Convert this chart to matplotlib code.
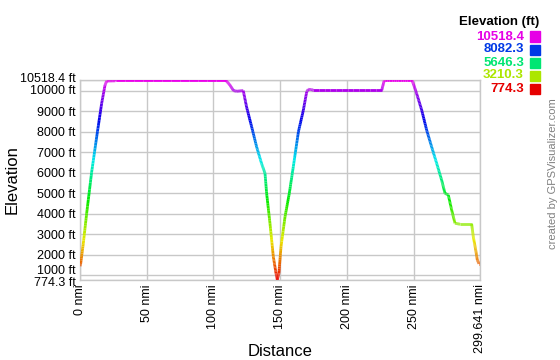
import numpy as np
import matplotlib
matplotlib.use("Agg")
import matplotlib.pyplot as plt
import matplotlib.transforms as mtransforms
from matplotlib.collections import LineCollection
from matplotlib.colors import hsv_to_rgb

plt.rcParams['font.family'] = ['Liberation Sans', 'DejaVu Sans']

# Distance (nmi) and elevation (ft) read from the profile
dist = [0.0, 0.5, 2.5, 5.0, 8.7, 12.5, 16.2, 18.7, 20.0, 26.5, 27.0, 109.0, 112.0, 115.0,
        117.4, 122.3, 124.8, 128.6, 132.3, 136.0, 138.6, 139.8, 142.3, 144.8, 146.8,
        147.8, 149.0, 150.6, 153.6, 156.8, 159.8, 163.6, 167.3, 169.8, 171.0, 173.5,
        174.8, 226.0, 227.8, 228.5, 248.5, 249.7, 252.2, 256.0, 259.7, 263.4, 267.2,
        270.9, 273.4, 275.9, 278.4, 280.9, 284.7, 293.4, 294.6, 296.4, 297.6, 298.9,
        299.641]
elev = [1450, 1565, 2570, 4026, 6017, 7750, 9370, 10259, 10470, 10480, 10518, 10518,
        10300, 10000, 9970, 10000, 9200, 8235, 7264, 6454, 5969, 5000, 3540, 1921, 1110,
        788, 1110, 2407, 3864, 5000, 6300, 7992, 9045, 9935, 10065, 10050, 10016, 10016,
        10470, 10518, 10518, 10340, 9854, 9045, 8073, 7264, 6454, 5645, 5000, 4917, 4187,
        3540, 3491, 3491, 2892, 2245, 1759, 1565, 1565]

emin, emax = 774.3, 10518.4
dmax = 299.641
y_ticks = [774.3, 1000, 2000, 3000, 4000, 5000, 6000, 7000, 8000, 9000, 10000, 10518.4]
y_labels = ["774.3 ft", "1000 ft", "2000 ft", "3000 ft", "4000 ft", "5000 ft", "6000 ft",
            "7000 ft", "8000 ft", "9000 ft", "10000 ft", "10518.4 ft"]
x_ticks = [0, 50, 100, 150, 200, 250, 299.641]
x_labels = ["0 nmi", "50 nmi", "100 nmi", "150 nmi", "200 nmi", "250 nmi", "299.641 nmi"]
legend_vals = ["10518.4", "8082.3", "5646.3", "3210.3", "774.3"]
legend_fracs = [1.0, 0.75, 0.5, 0.25, 0.0]


def elev_color(frac, v=0.92):
    frac = min(max(frac, 0.0), 1.0)
    return hsv_to_rgb((frac * 300.0 / 360.0, 1.0, v))


fig = plt.figure(figsize=(5.6, 3.6), dpi=100)
ax = fig.add_axes([80 / 560, 80 / 360, 400 / 560, 200 / 360])

# Densify into small segments so colour follows elevation
xs, ys = [], []
for i in range(len(dist) - 1):
    n = 12
    t = np.linspace(0, 1, n, endpoint=False)
    xs.extend(dist[i] + (dist[i + 1] - dist[i]) * t)
    ys.extend(elev[i] + (elev[i + 1] - elev[i]) * t)
xs.append(dist[-1])
ys.append(elev[-1])
xs = np.array(xs)
ys = np.array(ys)
pts = np.column_stack([xs, ys]).reshape(-1, 1, 2)
segs = np.concatenate([pts[:-1], pts[1:]], axis=1)
mids = (ys[:-1] + ys[1:]) / 2
cols = [elev_color((m - emin) / (emax - emin)) for m in mids]
lc = LineCollection(segs, colors=cols, linewidths=2.0, capstyle='butt', zorder=3)
ax.add_collection(lc)

ax.set_xlim(0, dmax)
ax.set_ylim(emin, emax)
ax.set_yticks(y_ticks)
ax.set_yticklabels(y_labels, fontsize=9)
ax.set_xticks(x_ticks)
ax.set_xticklabels(x_labels, fontsize=9, rotation=90)
ax.tick_params(length=0, pad=3)
ax.grid(True, color='#c8c8c8', linewidth=1)
for s in ax.spines.values():
    s.set_color('#c8c8c8')
    s.set_linewidth(1)

# nudge crowded y labels like the reference (pixels; +up)
nudges = {"1000 ft": 6, "10000 ft": 1, "774.3 ft": -1, "10518.4 ft": 3}
for lab in ax.get_yticklabels():
    dy = nudges.get(lab.get_text(), 0)
    if dy:
        off = mtransforms.ScaledTranslation(0, dy / 100, fig.dpi_scale_trans)
        lab.set_transform(lab.get_transform() + off)

fig.text(12 / 560, 1 - 180 / 360, "Elevation", rotation=90, ha='center', va='center',
         fontsize=12)
fig.text(280 / 560, 1 - 351 / 360, "Distance", ha='center', va='center', fontsize=12)

fig.text(539 / 560, 1 - 22 / 360, "Elevation (ft)", ha='right', va='center',
         fontsize=9.5, fontweight='bold')
for i, (lab, fr) in enumerate(zip(legend_vals, legend_fracs)):
    yc = 36.5 + i * 13
    c = elev_color(fr, v=0.9)
    fig.text(524 / 560, 1 - yc / 360, lab, ha='right', va='center', fontsize=9.5,
             fontweight='bold', color=c)
    fig.patches.append(plt.Rectangle((530 / 560, 1 - (yc + 5) / 360), 10 / 560, 10 / 360,
                                     transform=fig.transFigure, color=c, figure=fig))

fig.text(553 / 560, 1 - 174 / 360, "created by GPSVisualizer.com", rotation=90,
         ha='center', va='center', fontsize=8, color='#808080')

fig.savefig("out.png", dpi=100)
